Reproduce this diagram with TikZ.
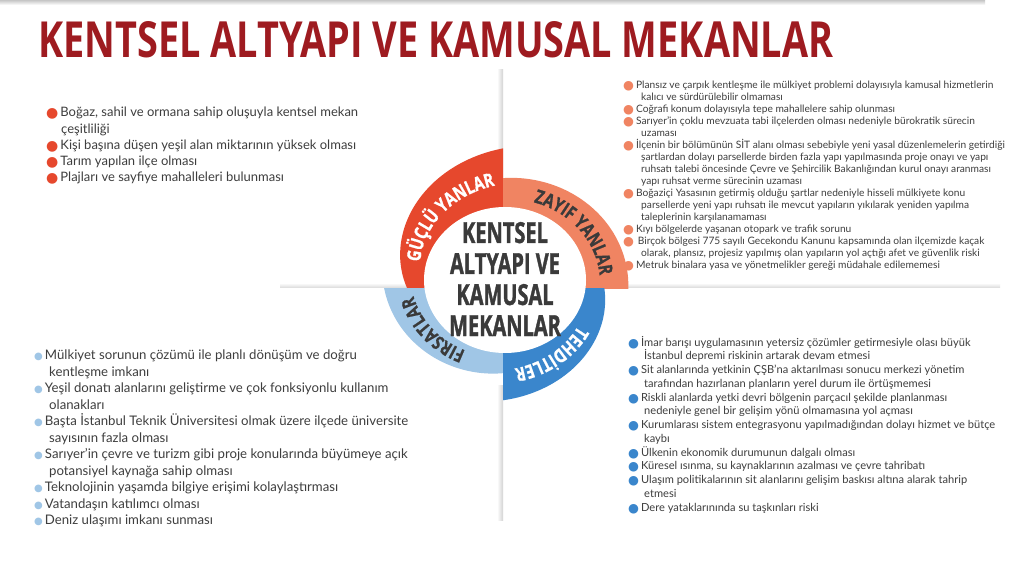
\documentclass[tikz,border=0pt]{standalone}
\usepackage{fontspec}
\usepackage{graphicx}
\usetikzlibrary{decorations.text}
\setmainfont{Lato}
\newfontfamily\symfont{DejaVu Sans}
\newfontfamily\headfont{Open Sans}[FakeStretch=0.62]
\newfontfamily\corefont{Open Sans}[FakeStretch=0.69, FakeBold=1.2]
\newfontfamily\labfont{Open Sans}[FakeStretch=0.78, FakeBold=0.8]
\definecolor{titlered}{RGB}{158,27,32}
\definecolor{strongred}{RGB}{230,72,45}
\definecolor{weaksalmon}{RGB}{240,132,98}
\definecolor{opplight}{RGB}{160,198,230}
\definecolor{threatblue}{RGB}{58,134,204}
\definecolor{centergray}{RGB}{58,58,58}
\definecolor{bodygray}{RGB}{62,62,62}
\newcommand\bul[3]{{\color{#1}\fontsize{#2}{#2}\symfont\raisebox{#3}{●}}\hspace{2pt}}
\newcommand\labsize{\labfont\bfseries\fontsize{19}{19}\selectfont}

\begin{document}
\begin{tikzpicture}[x=1pt, y=1pt,
  declare function={rstr(\t)=132-41*(\t-90)/90; rwea(\t)=111-9*\t/90;
    ropp(\t)=110-17*(\t-180)/90; rthr(\t)=120-32*(\t-270)/90; rtxt(\r)=(73+\r)/2-6.5;},
  blocktext/.style={anchor=north west, inner sep=0pt, align=left, text=bodygray},
  ringtext/.style={decorate, decoration={text along path, text align=center, text color=#1}}
]
  \useasboundingbox (0,0) rectangle (1024,560);
  \fill[white] (0,0) rectangle (1024,560);

  \shade[top color=gray!45, bottom color=white] (0,555) rectangle (985,560);
  \shade[left color=white, right color=gray!35] (497,272) rectangle (503,490);
  \shade[top color=white, bottom color=gray!30] (280,272) rectangle (1000,277);
  \shade[left color=white, right color=gray!35] (497,40) rectangle (503,175);

  \node[anchor=base west, inner sep=0pt, text=titlered] (title) at (38,502)
    {\resizebox{795pt}{36pt}{\headfont\bfseries KENTSEL ALTYAPI VE KAMUSAL MEKANLAR}};

  \begin{scope}
    \clip (0,271) rectangle (503,560);
    \fill[strongred] (505,280) -- plot[domain=80:195, samples=60, variable=\t]
      ({505+1.11*rstr(\t)*cos(\t)}, {280+rstr(\t)*sin(\t)}) -- cycle;
  \end{scope}
  \begin{scope}
    \clip (503,271) rectangle (1024,560);
    \fill[weaksalmon] (505,280) -- plot[domain=-15:100, samples=60, variable=\t]
      ({505+1.11*rwea(\t)*cos(\t)}, {280+rwea(\t)*sin(\t)}) -- cycle;
  \end{scope}
  \begin{scope}
    \clip (0,0) rectangle (503,271);
    \fill[opplight] (505,280) -- plot[domain=170:285, samples=60, variable=\t]
      ({505+1.11*ropp(\t)*cos(\t)}, {280+ropp(\t)*sin(\t)}) -- cycle;
  \end{scope}
  \begin{scope}
    \clip (503,0) rectangle (1024,271);
    \fill[threatblue] (505,280) -- plot[domain=260:375, samples=60, variable=\t]
      ({505+1.11*rthr(\t)*cos(\t)}, {280+rthr(\t)*sin(\t)}) -- cycle;
  \end{scope}
  \fill[white] (505,280) ellipse [x radius=81, y radius=73];

  \path[ringtext=white, decoration={text={|\labsize|GÜÇLÜ YANLAR}}]
    plot[domain=181:85, samples=60, variable=\t]
    ({505+1.11*rtxt(rstr(\t))*cos(\t)}, {280+rtxt(rstr(\t))*sin(\t)});
  \path[ringtext=centergray, decoration={text={|\labsize|ZAYIF YANLAR}}]
    plot[domain=85:-11, samples=60, variable=\t]
    ({505+1.11*rtxt(rwea(\t))*cos(\t)}, {280+rtxt(rwea(\t))*sin(\t)});
  \path[ringtext=centergray, decoration={text={|\labsize|FIRSATLAR}}]
    plot[domain=264:170, samples=60, variable=\t]
    ({505+1.11*rtxt(ropp(\t))*cos(\t)}, {280+rtxt(ropp(\t))*sin(\t)});
  \path[ringtext=white, decoration={text={|\labsize|TEHDİTLER}}]
    plot[domain=350:256, samples=60, variable=\t]
    ({505+1.11*rtxt(rthr(\t))*cos(\t)}, {280+rtxt(rthr(\t))*sin(\t)});

  \node[inner sep=0pt, align=center, text=centergray,
    font=\corefont\bfseries\fontsize{29}{31}\selectfont] (core) at (505,281)
    {KENTSEL\\ALTYAPI VE\\KAMUSAL\\MEKANLAR};

  \node[blocktext, font=\fontsize{13}{16.3}\selectfont] (strengths) at (46,453) {%
    \bul{strongred}{14}{-1pt}Boğaz, sahil ve ormana sahip oluşuyla kentsel mekan\\
    \hspace*{15pt}çeşitliliği\\
    \bul{strongred}{14}{-1pt}Kişi başına düşen yeşil alan miktarının yüksek olması\\
    \bul{strongred}{14}{-1pt}Tarım yapılan ilçe olması\\
    \bul{strongred}{14}{-1pt}Plajları ve sayfiye mahalleleri bulunması};

  \node[blocktext, font=\fontsize{10.2}{12}\selectfont] (weaknesses) at (623,479) {%
    \bul{weaksalmon}{12.5}{-1pt}Plansız ve çarpık kentleşme ile mülkiyet problemi dolayısıyla kamusal hizmetlerin\\
    \hspace*{18pt}kalıcı ve sürdürülebilir olmaması\\
    \bul{weaksalmon}{12.5}{-1pt}Coğrafi konum dolayısıyla tepe mahallelere sahip olunması\\
    \bul{weaksalmon}{12.5}{-1pt}Sarıyer’in çoklu mevzuata tabi ilçelerden olması nedeniyle bürokratik sürecin\\
    \hspace*{18pt}uzaması\\
    \bul{weaksalmon}{12.5}{-1pt}İlçenin bir bölümünün SİT alanı olması sebebiyle yeni yasal düzenlemelerin getirdiği\\
    \hspace*{18pt}şartlardan dolayı parsellerde birden fazla yapı yapılmasında proje onayı ve yapı\\
    \hspace*{18pt}ruhsatı talebi öncesinde Çevre ve Şehircilik Bakanlığından kurul onayı aranması\\
    \hspace*{18pt}yapı ruhsat verme sürecinin uzaması\\
    \bul{weaksalmon}{12.5}{-1pt}Boğaziçi Yasasının getirmiş olduğu şartlar nedeniyle hisseli mülkiyete konu\\
    \hspace*{18pt}parsellerde yeni yapı ruhsatı ile mevcut yapıların yıkılarak yeniden yapılma\\
    \hspace*{18pt}taleplerinin karşılanamaması\\
    \bul{weaksalmon}{12.5}{-1pt}Kıyı bölgelerde yaşanan otopark ve trafik sorunu\\
    \bul{weaksalmon}{12.5}{-1pt}\,Birçok bölgesi 775 sayılı Gecekondu Kanunu kapsamında olan ilçemizde kaçak\\
    \hspace*{18pt}olarak, plansız, projesiz yapılmış olan yapıların yol açtığı afet ve güvenlik riski\\
    \bul{weaksalmon}{12.5}{-1pt}Metruk binalara yasa ve yönetmelikler gereği müdahale edilememesi};

  \node[blocktext, font=\fontsize{13.2}{16.5}\selectfont] (opportunities) at (34,210) {%
    \bul{opplight}{10}{0pt}Mülkiyet sorunun çözümü ile planlı dönüşüm ve doğru\\
    \hspace*{15pt}kentleşme imkanı\\
    \bul{opplight}{10}{0pt}Yeşil donatı alanlarını geliştirme ve çok fonksiyonlu kullanım\\
    \hspace*{15pt}olanakları\\
    \bul{opplight}{10}{0pt}Başta İstanbul Teknik Üniversitesi olmak üzere ilçede üniversite\\
    \hspace*{15pt}sayısının fazla olması\\
    \bul{opplight}{10}{0pt}Sarıyer’in çevre ve turizm gibi proje konularında büyümeye açık\\
    \hspace*{15pt}potansiyel kaynağa sahip olması\\
    \bul{opplight}{10}{0pt}Teknolojinin yaşamda bilgiye erişimi kolaylaştırması\\
    \bul{opplight}{10}{0pt}Vatandaşın katılımcı olması\\
    \bul{opplight}{10}{0pt}Deniz ulaşımı imkanı sunması};

  \node[blocktext, font=\fontsize{11.1}{13.75}\selectfont] (threats) at (628,224) {%
    \bul{threatblue}{12.5}{-1pt}İmar barışı uygulamasının yetersiz çözümler getirmesiyle olası büyük\\
    \hspace*{16pt}İstanbul depremi riskinin artarak devam etmesi\\
    \bul{threatblue}{12.5}{-1pt}Sit alanlarında yetkinin ÇŞB’na aktarılması sonucu merkezi yönetim\\
    \hspace*{16pt}tarafından hazırlanan planların yerel durum ile örtüşmemesi\\
    \bul{threatblue}{12.5}{-1pt}Riskli alanlarda yetki devri bölgenin parçacıl şekilde planlanması\\
    \hspace*{16pt}nedeniyle genel bir gelişim yönü olmamasına yol açması\\
    \bul{threatblue}{12.5}{-1pt}Kurumlarası sistem entegrasyonu yapılmadığından dolayı hizmet ve bütçe\\
    \hspace*{16pt}kaybı\\
    \bul{threatblue}{12.5}{-1pt}Ülkenin ekonomik durumunun dalgalı olması\\
    \bul{threatblue}{12.5}{-1pt}Küresel ısınma, su kaynaklarının azalması ve çevre tahribatı\\
    \bul{threatblue}{12.5}{-1pt}Ulaşım politikalarının sit alanlarını gelişim baskısı altına alarak tahrip\\
    \hspace*{16pt}etmesi\\
    \bul{threatblue}{12.5}{-1pt}Dere yataklarınında su taşkınları riski};
\end{tikzpicture}
\end{document}
